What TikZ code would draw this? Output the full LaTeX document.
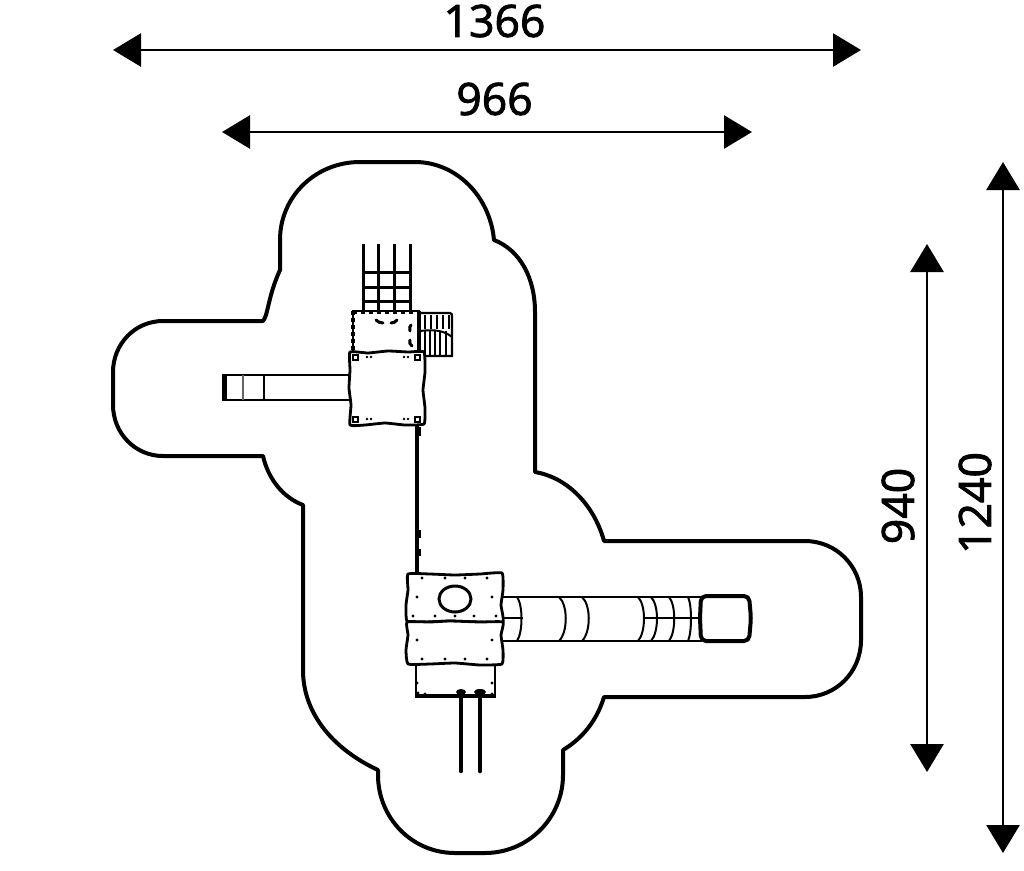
\documentclass[tikz,border=0pt]{standalone}
\usepackage{fontspec}
\setmainfont{Open Sans}
\usetikzlibrary{arrows.meta}

\newcommand{\dimnum}[1]{\special{pdf:code q 2 Tr 0.9 w}#1\special{pdf:code Q}}

\tikzset{
  dimline/.style={line width=2.8pt, {Triangle[length=28pt,width=33pt]}-{Triangle[length=28pt,width=33pt]}},
  dimtext/.style={font=\fontsize{44.5}{44.5}\selectfont, inner sep=0pt},
  platform/.style={line width=2.8pt, fill=white, line join=round},
  thinline/.style={line width=2pt},
  pin/.style={circle, fill=black, inner sep=0pt, minimum size=3.2pt}
}

\begin{document}
\begin{tikzpicture}[x=1pt, y=-1pt]
      \useasboundingbox (0, 0) rectangle (1024, 870);
      %% safety area
      \draw [line width=4pt, line join=round]
        (163, 321) -- (263, 321)
        .. controls (268, 316) and (268, 296) .. (280, 270)
        -- (280, 240)
        .. controls (280, 196) and (316, 162) .. (360, 162)
        -- (415, 162)
        .. controls (456, 162) and (490, 196) .. (494, 240)
        .. controls (520, 250) and (535, 278) .. (535, 312)
        -- (535, 472)
        .. controls (570, 478) and (595, 508) .. (604, 541)
        -- (805, 541)
        .. controls (836, 541) and (861, 566) .. (861, 597)
        -- (861, 640)
        .. controls (861, 672) and (836, 697) .. (805, 697)
        -- (604, 697)
        .. controls (597, 720) and (583, 738) .. (563, 750)
        -- (563, 775)
        .. controls (563, 818) and (528, 853) .. (485, 853)
        -- (455, 853)
        .. controls (412, 853) and (378, 818) .. (378, 775)
        -- (378, 770)
        .. controls (335, 750) and (303, 715) .. (303, 670)
        -- (303, 505)
        .. controls (282, 497) and (268, 478) .. (263, 456)
        -- (163, 456)
        .. controls (135, 456) and (113, 433) .. (113, 405)
        -- (113, 372)
        .. controls (113, 344) and (135, 321) .. (163, 321)
        -- cycle;
      %% dimensions
      \coordinate (w1l) at (113, 50);
      \coordinate (w1r) at (861, 50);
      \coordinate (w2l) at (222, 132);
      \coordinate (w2r) at (752, 132);
      \coordinate (h1t) at (927, 244);
      \coordinate (h1b) at (927, 772);
      \coordinate (h2t) at (1003, 162);
      \coordinate (h2b) at (1003, 853);
      \draw [dimline] (w1l) -- (w1r);
      \draw [dimline] (w2l) -- (w2r);
      \draw [dimline] (h1t) -- (h1b);
      \draw [dimline] (h2t) -- (h2b);
      \node [dimtext] (w1) at (494.5, 21) {\dimnum{1366}};
      \node [dimtext] (w2) at (494.5, 99) {\dimnum{966}};
      \node [dimtext, rotate=90] (h1) at (898, 506) {\dimnum{940}};
      \node [dimtext, rotate=90] (h2) at (975, 503) {\dimnum{1240}};
      %% net ladder
      \foreach \x in {363, 378, 394, 410}
        \draw [line width=3pt] (\x, 244) -- (\x, 311);
      \foreach \y in {272, 287, 301}
        \draw [line width=3pt] (362, \y) -- (411, \y);
      %% curved stair
      \draw [line width=2.2pt] (420, 313) -- (450, 313)
        .. controls (452, 313) and (452, 315) .. (452, 317) -- (452, 356) -- (420, 356);
      \draw [line width=2pt] (420, 331) .. controls (435, 329) and (445, 331) .. (452, 337);
      \foreach \x in {425, 430, 435, 440, 446}
        \draw [thinline] (\x, 331) -- (\x, 356);
      \foreach \x in {425, 431, 437, 443, 449}
        \draw [line width=1.6pt] (\x, 315) -- (\x, 329);
      %% small tower
      \draw [line width=2.8pt] (353, 352) -- (353, 311) -- (420, 311);
      \draw [line width=3.8pt] (419, 311) -- (419, 352);
      \draw [line width=3.8pt, dash pattern=on 4pt off 3pt] (353, 311) -- (353, 350);
      \draw [line width=3.6pt, dash pattern=on 4pt off 4pt] (353, 312) -- (420, 312);
      \draw [line width=3pt, line cap=round] (376, 320) .. controls (378, 322) and (380, 323) .. (383, 323);
      \draw [line width=3pt, line cap=round] (391, 323) .. controls (393, 323) and (396, 322) .. (397, 320);
      \draw [line width=3pt, line cap=round] (410, 331) .. controls (409, 328) and (410, 326) .. (411, 325);
      \draw [line width=3pt, line cap=round] (410, 340) .. controls (409, 342) and (410, 345) .. (412, 346);
      %% straight slide
      \draw [line width=2.2pt] (222, 375) -- (349, 375);
      \draw [line width=2.2pt] (222, 400) -- (349, 400);
      \fill (222, 375) rectangle (227, 400);
      \draw [line width=1.2pt, black!60] (243, 375) -- (243, 400);
      \draw [line width=2pt] (264, 375) -- (264, 400);
      %% upper platform
      \draw [platform] plot [smooth cycle, tension=0.25] coordinates {
        (350, 352) (368, 353) (388, 351) (408, 352) (424, 352) (425, 372) (423, 390) (425, 408) (424, 424)
        (405, 425) (385, 423) (365, 425) (350, 425) (351, 405) (349, 388) (350, 370)};
      \foreach \x in {355, 417}
        \foreach \y in {357, 419}
          \draw [line width=2pt] (\x-2.5, \y-2.5) rectangle (\x+2.5, \y+2.5);
      \foreach \x in {367, 371, 404, 408}
        \foreach \y in {357, 419}
          \node [pin, minimum size=2.6pt] at (\x, \y) {};
      %% link between the towers
      \draw [line width=3.2pt] (417, 425) -- (417, 572);
      \draw [line width=5.5pt] (418, 427) -- (418, 436);
      \draw [line width=5pt] (418, 530) -- (418, 538);
      \draw [line width=5pt] (418, 549) -- (418, 556);
      \foreach \y in {450, 478, 507}
        \draw [line width=4.5pt] (417, \y) -- (417, \y+4);
      %% poles
      \draw [line width=4.6pt, line cap=round] (461, 692) -- (461, 771);
      \draw [line width=4.6pt, line cap=round] (480, 692) -- (480, 771);
      %% lower box
      \draw [line width=2.4pt, fill=white] (416, 665) -- (416, 696) -- (495, 696) -- (495, 665);
      \draw [line width=3.6pt] (415, 696) -- (496, 696);
      \fill (461, 692) ellipse (5 and 3);
      \fill (480, 692) ellipse (6 and 3);
      \node [pin] at (418, 693) {};
      \node [pin] at (425, 694) {};
      \node [pin] at (492, 694) {};
      \node [pin] at (417, 683) {};
      \node [pin] at (492, 683) {};
      %% tube slide
      \draw [line width=2.2pt] (503, 597) -- (702, 597);
      \draw [line width=2.4pt] (503, 641) -- (702, 641);
      \draw [line width=2.2pt] (503, 618) -- (523, 618);
      \draw [line width=2.2pt] (645, 618) -- (705, 618);
      \foreach \x/\b in {517/6, 559/9, 582/9, 638/8, 651/8, 669/7, 688/4}
        \draw [line width=2pt] (\x, 597) .. controls (\x+\b, 605) and (\x+\b, 632) .. (\x, 641);
      \draw [line width=4pt, rounded corners=5pt, fill=white] (701, 596) -- (749, 596) -- (751, 618) -- (749, 641) -- (701, 641) -- (700, 618) -- cycle;
      %% lower platforms
      \draw [platform] plot [smooth cycle, tension=0.25] coordinates {
        (408, 574) (430, 574) (455, 575) (480, 574) (502, 573) (503, 590) (501, 605) (503, 622)
        (480, 622) (450, 621) (425, 622) (407, 621) (406, 605) (408, 590)};
      \draw [platform] plot [smooth cycle, tension=0.25] coordinates {
        (407, 622) (430, 622) (450, 621) (480, 622) (503, 622) (501, 635) (503, 650) (502, 664)
        (480, 665) (455, 663) (430, 664) (408, 664) (406, 650) (408, 635)};
      \draw [line width=3pt] (455, 599) ellipse (16 and 13);
      \foreach \x/\y in {422/578, 445/578, 465/578, 487/578, 417/597, 492/597,
                         413/616, 435/616, 455/616, 474/616, 496/616,
                         417/640, 492/640, 422/659, 445/659, 465/659, 487/659}
        \node [pin] at (\x, \y) {};
    \end{tikzpicture}
\end{document}
